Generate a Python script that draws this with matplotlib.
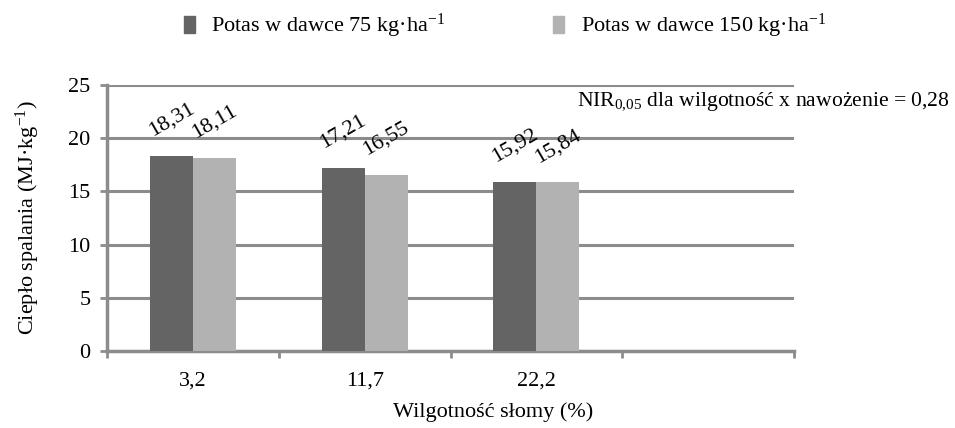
import matplotlib
matplotlib.use('Agg')
import matplotlib.pyplot as plt
import numpy as np
from matplotlib.patches import Patch

# dane
kategorie = ['3,2', '11,7', '22,2']
potas_75 = [18.31, 17.21, 15.92]
potas_150 = [18.11, 16.55, 15.84]
etykiety_75 = ['18,31', '17,21', '15,92']
etykiety_150 = ['18,11', '16,55', '15,84']
y_ticks = [0, 5, 10, 15, 20, 25]

plt.rcParams['font.family'] = ['Liberation Serif', 'DejaVu Serif']
plt.rcParams['mathtext.fontset'] = 'custom'
plt.rcParams['mathtext.rm'] = 'Liberation Serif'
plt.rcParams['mathtext.it'] = 'Liberation Serif'
plt.rcParams['mathtext.default'] = 'regular'

FS = 16
ciemny = '#646464'
jasny = '#b2b2b2'
szary = '#8c8c8c'

fig = plt.figure(figsize=(9.55, 4.28), dpi=100)
ax = fig.add_axes([107 / 955, 1 - 351 / 428, (794 - 107) / 955, (351 - 85) / 428])

x = np.arange(len(kategorie))
w = 0.25
b1 = ax.bar(x - w / 2, potas_75, w, color=ciemny, zorder=3)
b2 = ax.bar(x + w / 2, potas_150, w, color=jasny, zorder=3)

for rect, lab in zip(b1, etykiety_75):
    ax.annotate(lab, (rect.get_x() + rect.get_width() / 2, rect.get_height()),
                xytext=(0, 26), textcoords='offset points', ha='center', va='center',
                rotation=30, fontsize=FS)
for rect, lab in zip(b2, etykiety_150):
    ax.annotate(lab, (rect.get_x() + rect.get_width() / 2, rect.get_height()),
                xytext=(0, 26), textcoords='offset points', ha='center', va='center',
                rotation=30, fontsize=FS)

ax.set_xlim(-0.5, 3.5)
ax.set_ylim(0, 25)
ax.set_yticks(y_ticks)
ax.set_yticklabels([str(t) for t in y_ticks], fontsize=FS)
ax.yaxis.grid(True, color=szary, linewidth=2.2, zorder=0)
ax.set_axisbelow(True)

# podzialka osi X na granicach kategorii
ax.set_xticks(np.arange(-0.5, 4.0, 1.0))
ax.set_xticklabels([])
ax.set_xticks(x, minor=True)
ax.set_xticklabels(kategorie, minor=True, fontsize=FS)
ax.tick_params(axis='x', which='major', length=5, width=2, color=szary, direction='out')
ax.tick_params(axis='x', which='minor', length=0, pad=15)
ax.tick_params(axis='y', length=5, width=2, color=szary, direction='out', pad=7)

for s in ['top', 'right']:
    ax.spines[s].set_visible(False)
for s in ['left', 'bottom']:
    ax.spines[s].set_color(szary)
    ax.spines[s].set_linewidth(2.5)

ax.set_ylabel('Ciepło spalania (MJ·kg$^{-1}$)', fontsize=FS)
ax.yaxis.set_label_coords(-65 / 687, 0.5)
fig.text(493 / 955, 1 - 412 / 428, 'Wilgotność słomy (%)', ha='center', va='center', fontsize=FS)

fig.text(950 / 955, 1 - 102 / 428, 'NIR$_{0{,}05}$ dla wilgotność x nawożenie = 0,28',
         ha='right', va='center', fontsize=15.6)

uchwyty = [Patch(color=ciemny, label='Potas w dawce 75 kg·ha$^{-1}$'),
           Patch(color=jasny, label='Potas w dawce 150 kg·ha$^{-1}$')]
fig.legend(handles=uchwyty, loc='center', bbox_to_anchor=(505 / 955, 1 - 26 / 428), ncol=2,
           frameon=False, fontsize=FS, handlelength=0.5, handleheight=0.8,
           handletextpad=0.75, columnspacing=4.85)

fig.savefig('out.png', dpi=100)
